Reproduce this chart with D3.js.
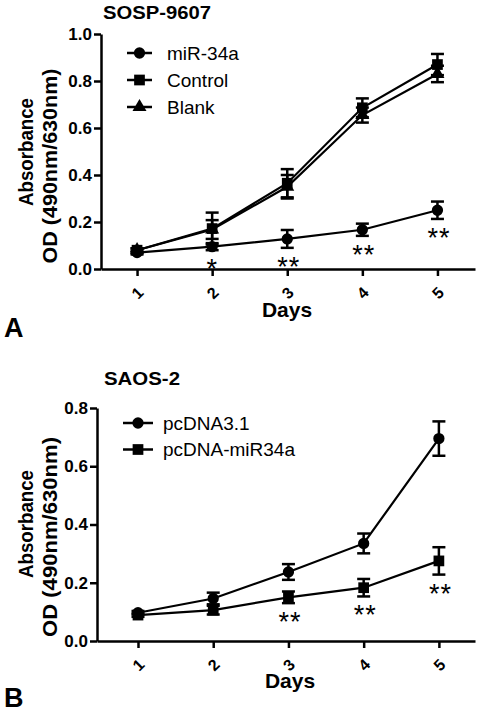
<!DOCTYPE html>
<html><head><meta charset="utf-8">
<script src="https://cdn.jsdelivr.net/npm/d3@7"></script>
<style>body{margin:0;background:#fff}svg{display:block}text{font-family:Arial,"Liberation Sans",sans-serif;fill:#000}</style>
</head><body>
<script>
// ---- Data ----
const days = [1, 2, 3, 4, 5];

// Panel A: SOSP-9607
const titleA = "SOSP-9607";
const seriesNamesA = ["miR-34a", "Control", "Blank"];
const mir34aMean = [0.070, 0.095, 0.128, 0.167, 0.250];
const mir34aErr  = [0.008, 0.015, 0.038, 0.026, 0.037];
const controlMean = [0.080, 0.172, 0.365, 0.686, 0.870];
const controlErr  = [0.008, 0.068, 0.060, 0.040, 0.045];
const blankMean = [0.080, 0.168, 0.350, 0.655, 0.830];
const blankErr  = [0.008, 0.040, 0.050, 0.032, 0.035];
const yTicksA = [0.0, 0.2, 0.4, 0.6, 0.8, 1.0];
const starsA = ["", "*", "**", "**", "**"];

// Panel B: SAOS-2
const titleB = "SAOS-2";
const seriesNamesB = ["pcDNA3.1", "pcDNA-miR34a"];
const pcdnaMean = [0.097, 0.146, 0.237, 0.335, 0.695];
const pcdnaErr  = [0.006, 0.020, 0.027, 0.034, 0.059];
const pcmirMean = [0.089, 0.106, 0.150, 0.183, 0.275];
const pcmirErr  = [0.006, 0.015, 0.020, 0.030, 0.047];
const yTicksB = [0.0, 0.2, 0.4, 0.6, 0.8];
const starsB = ["", "", "**", "**", "**"];

const xLabel = "Days";
const yLabel1 = "Absorbance";
const yLabel2 = "OD (490nm/630nm)";

// ---- Drawing ----
const svg = d3.select("body").append("svg").attr("width", 482).attr("height", 713);

function markerPath(type) {
  if (type === "circle") return d3.symbol(d3.symbolCircle, 100)();
  if (type === "square") return d3.symbol(d3.symbolSquare, 115)();
  return d3.symbol(d3.symbolTriangle, 85)();
}

function drawPanel(cfg) {
  const g = svg.append("g");
  const x = d3.scaleLinear().domain(cfg.xDomain).range([cfg.left, cfg.right]);
  const y = d3.scaleLinear().domain([0, cfg.yMax]).range([cfg.bottom, cfg.top]);

  // title
  g.append("text").attr("x", cfg.titleX).attr("y", cfg.titleY)
    .attr("font-size", 19).attr("font-weight", "bold")
    .attr("textLength", cfg.titleLen).attr("lengthAdjust", "spacingAndGlyphs").text(cfg.title);
  // panel letter
  g.append("text").attr("x", cfg.letterX).attr("y", cfg.letterY)
    .attr("font-size", 27).attr("font-weight", "bold").text(cfg.letter);

  // y axis
  const yAxis = d3.axisLeft(y).tickValues(cfg.yTicks).tickFormat(d3.format(".1f"))
    .tickSize(7).tickPadding(2).tickSizeOuter(0);
  const ya = g.append("g").attr("transform", `translate(${cfg.left},0)`).call(yAxis);
  ya.select(".domain").attr("stroke", "#000").attr("stroke-width", 2.5);
  ya.selectAll(".tick line").attr("stroke", "#000").attr("stroke-width", 2.5);
  ya.selectAll(".tick text").attr("font-size", 17).attr("font-weight", "bold")
    .attr("font-family", "Arial, 'Liberation Sans', sans-serif").attr("fill", "#000");

  // x axis
  const xAxis = d3.axisBottom(x).tickValues(days).tickFormat(d3.format("d"))
    .tickSize(7).tickSizeOuter(0);
  const xa = g.append("g").attr("transform", `translate(0,${cfg.bottom})`).call(xAxis);
  xa.select(".domain").attr("stroke", "#000").attr("stroke-width", 2.5);
  xa.selectAll(".tick line").attr("stroke", "#000").attr("stroke-width", 2.5);
  xa.selectAll(".tick text").attr("font-size", 16).attr("font-weight", "bold")
    .attr("font-family", "Arial, 'Liberation Sans', sans-serif").attr("fill", "#000")
    .attr("y", 0).attr("dy", 0)
    .attr("text-anchor", "middle").attr("dominant-baseline", "central")
    .attr("transform", "translate(0,24) rotate(-45)");

  // x label
  g.append("text").attr("x", cfg.xLabelX).attr("y", cfg.xLabelY).attr("text-anchor", "middle")
    .attr("font-size", 21).attr("font-weight", "bold").text(xLabel);

  // y labels
  g.append("text").attr("transform", `translate(${cfg.yl1X},${cfg.yl1Y}) rotate(-90)`)
    .attr("text-anchor", "middle").attr("font-size", 20).attr("font-weight", "bold")
    .attr("textLength", 108).attr("lengthAdjust", "spacingAndGlyphs").text(yLabel1);
  g.append("text").attr("transform", `translate(${cfg.yl2X},${cfg.yl2Y}) rotate(-90)`)
    .attr("text-anchor", "middle").attr("font-size", 20).attr("font-weight", "bold")
    .attr("textLength", cfg.yl2Len).attr("lengthAdjust", "spacingAndGlyphs").text(yLabel2);

  const line = d3.line().x(d => x(d.day)).y(d => y(d.v));

  cfg.series.forEach(s => {
    const pts = days.map((d, i) => ({ day: d, v: s.mean[i], e: s.err[i] }));
    g.append("path").datum(pts).attr("d", line).attr("fill", "none")
      .attr("stroke", "#000").attr("stroke-width", 2.2);
    const eb = g.append("g");
    pts.forEach(p => {
      const cx = x(p.day), y1 = y(p.v + p.e), y2 = y(p.v - p.e);
      eb.append("line").attr("x1", cx).attr("x2", cx).attr("y1", y1).attr("y2", y2)
        .attr("stroke", "#000").attr("stroke-width", 2.5);
      [y1, y2].forEach(yy => eb.append("line").attr("x1", cx - 6.5).attr("x2", cx + 6.5)
        .attr("y1", yy).attr("y2", yy).attr("stroke", "#000").attr("stroke-width", 2.5));
      eb.append("path").attr("d", markerPath(s.marker))
        .attr("transform", `translate(${cx},${y(p.v)})`).attr("fill", "#000");
    });
  });

  // significance stars under the treated series
  const st = cfg.starSeries;
  cfg.stars.forEach((s, i) => {
    if (!s) return;
    const cy = y(st.mean[i] - st.err[i]) + 13;
    g.append("text").attr("x", x(days[i]) + (s.length > 1 ? 1.5 : 0)).attr("y", cy + 15)
      .attr("text-anchor", "middle").attr("font-size", 27).attr("letter-spacing", 1)
      .text(s);
  });

  // legend
  cfg.series.forEach((s, i) => {
    const ry = cfg.legY + i * cfg.legDy;
    g.append("line").attr("x1", cfg.legX1).attr("x2", cfg.legX2).attr("y1", ry).attr("y2", ry)
      .attr("stroke", "#000").attr("stroke-width", 2.5);
    g.append("path").attr("d", markerPath(s.marker))
      .attr("transform", `translate(${(cfg.legX1 + cfg.legX2) / 2},${ry})`).attr("fill", "#000");
    g.append("text").attr("x", cfg.legTextX).attr("y", ry + 6.5)
      .attr("font-size", 19).text(s.name);
  });
}

drawPanel({
  title: titleA, titleLen: 108, titleX: 103, titleY: 19, letter: "A", letterX: 4, letterY: 337,
  left: 101, right: 475, top: 34, bottom: 269, xDomain: [0.52, 5.5], yMax: 1.0, yTicks: yTicksA,
  xLabelX: 287, xLabelY: 317,
  yl1X: 33, yl1Y: 152, yl2X: 57, yl2Y: 166, yl2Len: 195,
  series: [
    { name: seriesNamesA[0], mean: mir34aMean, err: mir34aErr, marker: "circle" },
    { name: seriesNamesA[1], mean: controlMean, err: controlErr, marker: "square" },
    { name: seriesNamesA[2], mean: blankMean, err: blankErr, marker: "triangle" }
  ],
  starSeries: { mean: mir34aMean, err: mir34aErr }, stars: starsA,
  legY: 53, legDy: 27, legX1: 127, legX2: 152, legTextX: 167
});

drawPanel({
  title: titleB, titleLen: 76, titleX: 104, titleY: 385, letter: "B", letterX: 4, letterY: 707,
  left: 97, right: 475, top: 408, bottom: 641, xDomain: [0.455, 5.48], yMax: 0.8, yTicks: yTicksB,
  xLabelX: 290, xLabelY: 688,
  yl1X: 33, yl1Y: 524, yl2X: 57, yl2Y: 537, yl2Len: 200,
  series: [
    { name: seriesNamesB[0], mean: pcdnaMean, err: pcdnaErr, marker: "circle" },
    { name: seriesNamesB[1], mean: pcmirMean, err: pcmirErr, marker: "square" }
  ],
  starSeries: { mean: pcmirMean, err: pcmirErr }, stars: starsB,
  legY: 423, legDy: 26.5, legX1: 123, legX2: 153, legTextX: 163
});
</script>
</body></html>
